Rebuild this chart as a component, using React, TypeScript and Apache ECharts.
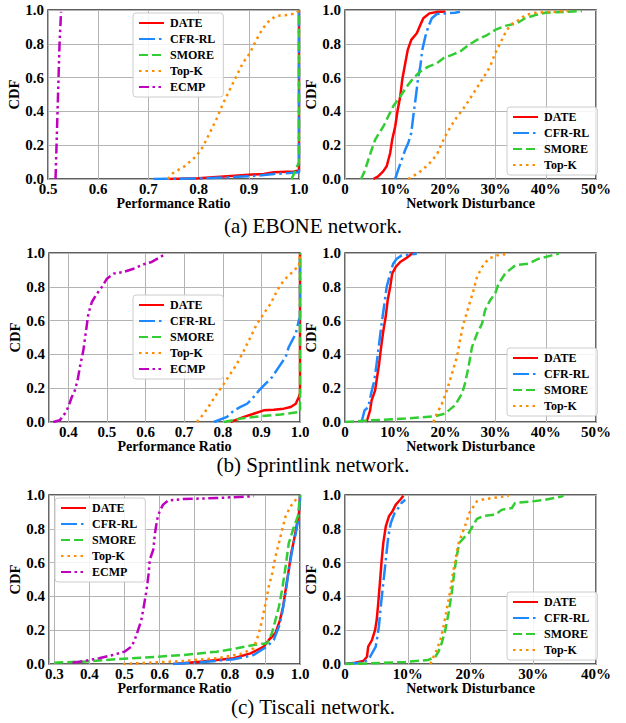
import React, { useEffect, useRef } from 'react';
import * as echarts from 'echarts';

// ---------- (a) EBONE : performance ratio ----------
const ebonePrDATE = [[0.74, 0], [0.8, 0.005], [0.85, 0.015], [0.9, 0.025], [0.93, 0.03], [0.95, 0.04], [0.99, 0.045], [1.0, 0.05], [1.0, 1.0]];
const ebonePrCFR = [[0.71, 0], [0.8, 0.003], [0.86, 0.01], [0.92, 0.02], [0.95, 0.03], [0.98, 0.035], [1.0, 0.04], [1.0, 1.0]];
const ebonePrSMORE = [[0.985, 0], [0.993, 0.05], [0.997, 0.08], [1.0, 0.1], [1.0, 1.0]];
const ebonePrTopK = [[0.739, 0], [0.749, 0.035], [0.772, 0.075], [0.795, 0.134], [0.809, 0.193], [0.822, 0.272], [0.835, 0.35], [0.849, 0.449], [0.862, 0.528], [0.875, 0.606], [0.888, 0.685], [0.902, 0.744], [0.915, 0.823], [0.928, 0.892], [0.942, 0.941], [0.955, 0.965], [0.975, 0.97], [0.995, 0.98], [1.0, 1.0]];
const ebonePrECMP = [[0.515, 0], [0.517, 0.2], [0.519, 0.4], [0.521, 0.6], [0.523, 0.8], [0.526, 0.99]];

// ---------- (a) EBONE : network disturbance (%) ----------
const eboneNdDATE = [[5.65, 0], [6.6, 0.016], [7.6, 0.045], [8.3, 0.075], [9.0, 0.154], [9.4, 0.232], [10.0, 0.311], [10.5, 0.41], [11.0, 0.488], [11.4, 0.587], [12.0, 0.685], [12.5, 0.764], [13.2, 0.823], [14.3, 0.862], [15.0, 0.911], [15.6, 0.951], [16.8, 0.98], [18.6, 0.99], [20.0, 0.99]];
const eboneNdCFR = [[10.0, 0], [10.6, 0.055], [11.3, 0.114], [12.0, 0.173], [12.6, 0.213], [13.2, 0.272], [13.6, 0.37], [14.2, 0.508], [14.6, 0.606], [15.0, 0.665], [15.4, 0.764], [16.0, 0.843], [16.6, 0.902], [17.3, 0.951], [18.3, 0.976], [20.0, 0.98], [21.9, 0.984], [22.9, 0.99]];
const eboneNdSMORE = [[3.2, 0], [3.9, 0.045], [4.65, 0.114], [5.3, 0.173], [6.0, 0.232], [6.8, 0.272], [7.65, 0.311], [8.6, 0.37], [9.6, 0.43], [11.0, 0.488], [12.3, 0.547], [13.6, 0.596], [15.0, 0.636], [16.6, 0.665], [18.3, 0.685], [19.6, 0.715], [21.3, 0.734], [22.9, 0.754], [24.6, 0.793], [26.3, 0.823], [28.3, 0.852], [29.9, 0.882], [31.9, 0.906], [34.2, 0.921], [35.9, 0.951], [37.9, 0.97], [39.9, 0.984], [44.5, 0.99], [47.2, 0.994]];
const eboneNdTopK = [[12.6, 0], [14.6, 0.035], [16.6, 0.085], [18.3, 0.144], [19.3, 0.213], [20.3, 0.272], [21.9, 0.35], [23.9, 0.43], [25.6, 0.508], [27.3, 0.587], [28.9, 0.665], [29.9, 0.744], [30.9, 0.803], [31.9, 0.862], [32.9, 0.911], [34.6, 0.941], [35.9, 0.97], [37.9, 0.984], [41.9, 0.99], [44.5, 0.994]];

// ---------- (b) Sprintlink : performance ratio ----------
const sprintPrDATE = [[0.82, 0], [0.855, 0.03], [0.88, 0.049], [0.906, 0.069], [0.932, 0.073], [0.958, 0.079], [0.976, 0.089], [0.989, 0.108], [0.997, 0.148], [1.0, 0.17], [1.0, 1.0]];
const sprintPrCFR = [[0.777, 0], [0.811, 0.03], [0.829, 0.069], [0.846, 0.089], [0.863, 0.108], [0.88, 0.148], [0.894, 0.187], [0.911, 0.227], [0.928, 0.266], [0.945, 0.325], [0.963, 0.385], [0.971, 0.444], [0.98, 0.483], [0.989, 0.523], [0.993, 0.562], [0.997, 0.602], [1.0, 0.62], [1.0, 1.0]];
const sprintPrSMORE = [[0.803, 0], [0.846, 0.02], [0.898, 0.034], [0.95, 0.045], [1.0, 0.06], [1.0, 1.0]];
const sprintPrTopK = [[0.733, 0], [0.751, 0.049], [0.768, 0.108], [0.785, 0.168], [0.803, 0.227], [0.82, 0.286], [0.837, 0.345], [0.855, 0.424], [0.872, 0.503], [0.889, 0.582], [0.906, 0.641], [0.924, 0.7], [0.941, 0.779], [0.958, 0.838], [0.976, 0.878], [0.989, 0.907], [0.997, 0.917], [1.0, 1.0]];
const sprintPrECMP = [[0.361, 0], [0.378, 0.01], [0.391, 0.05], [0.4, 0.089], [0.409, 0.148], [0.417, 0.187], [0.424, 0.247], [0.43, 0.325], [0.439, 0.424], [0.446, 0.542], [0.452, 0.641], [0.461, 0.71], [0.474, 0.759], [0.487, 0.799], [0.5, 0.848], [0.517, 0.878], [0.543, 0.888], [0.569, 0.907], [0.595, 0.933], [0.616, 0.947], [0.638, 0.976], [0.651, 0.992]];

// ---------- (b) Sprintlink : network disturbance (%) ----------
const sprintNdDATE = [[4.3, 0], [5.0, 0.069], [5.3, 0.128], [6.0, 0.187], [6.3, 0.247], [6.8, 0.345], [7.2, 0.444], [7.65, 0.542], [8.1, 0.621], [8.5, 0.72], [9.0, 0.799], [9.4, 0.878], [10.1, 0.917], [11.0, 0.947], [12.3, 0.972], [13.3, 0.996], [13.8, 1.0]];
const sprintNdCFR = [[3.3, 0], [3.9, 0.069], [4.65, 0.089], [5.2, 0.168], [5.85, 0.247], [6.3, 0.345], [6.8, 0.464], [7.3, 0.582], [7.85, 0.7], [8.3, 0.799], [9.0, 0.878], [9.6, 0.937], [10.3, 0.966], [11.3, 0.986], [14.3, 0.996]];
const sprintNdSMORE = [[0, 0], [5.3, 0.01], [12.0, 0.02], [17.95, 0.034], [19.9, 0.049], [21.9, 0.099], [23.3, 0.168], [23.9, 0.227], [24.6, 0.325], [25.3, 0.444], [26.3, 0.523], [27.3, 0.582], [27.9, 0.661], [28.9, 0.72], [29.9, 0.759], [30.6, 0.819], [31.9, 0.878], [33.9, 0.927], [36.6, 0.937], [38.6, 0.966], [41.2, 0.986], [42.6, 0.996]];
const sprintNdTopK = [[17.6, 0], [18.3, 0.049], [19.3, 0.108], [20.3, 0.187], [21.3, 0.286], [22.3, 0.385], [22.9, 0.483], [23.6, 0.582], [24.6, 0.68], [25.6, 0.779], [26.3, 0.858], [27.3, 0.917], [28.6, 0.966], [30.3, 0.986], [32.6, 0.996]];

// ---------- (c) Tiscali : performance ratio ----------
const tiscPrDATE = [[0.639, 0], [0.715, 0.014], [0.811, 0.034], [0.859, 0.063], [0.897, 0.103], [0.911, 0.142], [0.93, 0.182], [0.943, 0.26], [0.952, 0.34], [0.959, 0.439], [0.968, 0.557], [0.975, 0.656], [0.983, 0.735], [0.99, 0.814], [0.997, 0.893], [1.0, 1.0]];
const tiscPrCFR = [[0.639, 0], [0.715, 0.01], [0.811, 0.028], [0.868, 0.053], [0.906, 0.103], [0.925, 0.142], [0.94, 0.221], [0.949, 0.3], [0.959, 0.419], [0.968, 0.557], [0.978, 0.676], [0.988, 0.775], [0.995, 0.854], [1.0, 0.972], [1.0, 1.0]];
const tiscPrSMORE = [[0.3, 0.008], [0.381, 0.014], [0.477, 0.028], [0.572, 0.04], [0.668, 0.053], [0.763, 0.073], [0.82, 0.093], [0.868, 0.113], [0.906, 0.123], [0.92, 0.182], [0.93, 0.26], [0.94, 0.34], [0.949, 0.439], [0.959, 0.577], [0.968, 0.715], [0.983, 0.814], [0.994, 0.874], [0.999, 0.972], [1.0, 1.0]];
const tiscPrTopK = [[0.496, 0], [0.572, 0.008], [0.668, 0.018], [0.763, 0.034], [0.83, 0.059], [0.868, 0.093], [0.883, 0.182], [0.892, 0.26], [0.902, 0.36], [0.911, 0.458], [0.921, 0.538], [0.93, 0.636], [0.94, 0.715], [0.949, 0.794], [0.959, 0.874], [0.973, 0.933], [0.988, 0.972], [0.997, 0.992]];
const tiscPrECMP = [[0.352, 0.008], [0.39, 0.02], [0.428, 0.034], [0.466, 0.053], [0.5, 0.073], [0.52, 0.103], [0.529, 0.142], [0.539, 0.202], [0.548, 0.26], [0.555, 0.34], [0.563, 0.439], [0.569, 0.537], [0.572, 0.617], [0.582, 0.676], [0.587, 0.775], [0.593, 0.854], [0.6, 0.903], [0.61, 0.943], [0.625, 0.968], [0.668, 0.976], [0.763, 0.982], [0.859, 0.992], [0.868, 0.992]];

// ---------- (c) Tiscali : network disturbance (%) ----------
const tiscNdDATE = [[0, 0], [1.6, 0.008], [2.9, 0.018], [3.5, 0.043], [3.7, 0.103], [4.3, 0.142], [4.8, 0.202], [5.05, 0.26], [5.3, 0.36], [5.6, 0.498], [5.85, 0.617], [6.1, 0.715], [6.5, 0.814], [7.0, 0.874], [7.55, 0.903], [8.1, 0.943], [8.8, 0.972], [9.3, 0.996]];
const tiscNdCFR = [[0, 0], [2.7, 0.008], [3.7, 0.024], [4.3, 0.063], [4.9, 0.103], [5.4, 0.221], [5.7, 0.34], [6.1, 0.478], [6.5, 0.617], [6.9, 0.755], [7.3, 0.834], [7.9, 0.893], [8.5, 0.923], [9.0, 0.953], [9.6, 0.972]];
const tiscNdSMORE = [[0, 0], [4.3, 0.004], [9.6, 0.012], [13.3, 0.024], [14.4, 0.043], [14.9, 0.073], [15.4, 0.123], [16.0, 0.202], [16.5, 0.3], [17.0, 0.419], [17.4, 0.538], [17.8, 0.636], [18.2, 0.715], [18.9, 0.745], [19.7, 0.775], [20.5, 0.824], [21.0, 0.858], [22.1, 0.877], [23.9, 0.883], [25.0, 0.913], [26.6, 0.923], [27.1, 0.953], [29.8, 0.962], [31.9, 0.972], [34.6, 0.992], [34.8, 0.996]];
const tiscNdTopK = [[13.6, 0], [14.1, 0.043], [14.6, 0.083], [15.2, 0.142], [15.7, 0.221], [16.2, 0.32], [16.8, 0.439], [17.2, 0.538], [17.6, 0.617], [18.1, 0.715], [18.7, 0.775], [19.3, 0.834], [19.8, 0.893], [20.5, 0.933], [21.0, 0.962], [21.8, 0.972], [23.4, 0.982], [25.5, 0.992], [26.1, 0.996]];

const CAPTIONS = ['(a) EBONE network.', '(b) Sprintlink network.', '(c) Tiscali network.'];
const Y_TICKS = [0, 0.2, 0.4, 0.6, 0.8, 1.0];

const LW = 2.5;
const STYLES: Record<string, { color: string; dash: any }> = {
  'DATE': { color: '#ff0000', dash: 'solid' },
  'CFR-RL': { color: '#1e88ff', dash: [16, 4, 2.5, 4] },
  'SMORE': { color: '#32cd32', dash: [9, 4] },
  'Top-K': { color: '#ff8c00', dash: [2.5, 4] },
  'ECMP': { color: '#bf00bf', dash: [10, 3.5, 2.5, 3.5, 2.5, 3.5] },
};

const FONT = "'Liberation Serif', 'Times New Roman', serif";

const PANELS = [
  { grid: { left: 48, top: 10 }, kind: 'pr', min: 0.5, max: 1.0, legend: { left: 133, top: 13 }, series: [['DATE', ebonePrDATE], ['CFR-RL', ebonePrCFR], ['SMORE', ebonePrSMORE], ['Top-K', ebonePrTopK], ['ECMP', ebonePrECMP]] },
  { grid: { left: 345, top: 10 }, kind: 'nd', min: 0, max: 50, legend: { left: 507, top: 107 }, series: [['DATE', eboneNdDATE], ['CFR-RL', eboneNdCFR], ['SMORE', eboneNdSMORE], ['Top-K', eboneNdTopK]] },
  { grid: { left: 49, top: 253 }, kind: 'pr', min: 0.35, max: 1.0, legend: { left: 133, top: 295 }, series: [['DATE', sprintPrDATE], ['CFR-RL', sprintPrCFR], ['SMORE', sprintPrSMORE], ['Top-K', sprintPrTopK], ['ECMP', sprintPrECMP]] },
  { grid: { left: 345, top: 253 }, kind: 'nd', min: 0, max: 50, legend: { left: 507, top: 348 }, series: [['DATE', sprintNdDATE], ['CFR-RL', sprintNdCFR], ['SMORE', sprintNdSMORE], ['Top-K', sprintNdTopK]] },
  { grid: { left: 49, top: 495 }, kind: 'pr', min: 0.285, max: 1.0, legend: { left: 55, top: 498 }, series: [['DATE', tiscPrDATE], ['CFR-RL', tiscPrCFR], ['SMORE', tiscPrSMORE], ['Top-K', tiscPrTopK], ['ECMP', tiscPrECMP]] },
  { grid: { left: 345, top: 495 }, kind: 'nd', min: 0, max: 40, legend: { left: 507, top: 592 }, series: [['DATE', tiscNdDATE], ['CFR-RL', tiscNdCFR], ['SMORE', tiscNdSMORE], ['Top-K', tiscNdTopK]] },
];

const CAPTION_TOPS = [210, 449, 691];

function buildOption() {
  const grids: any[] = [];
  const xAxes: any[] = [];
  const yAxes: any[] = [];
  const series: any[] = [];
  const legends: any[] = [];
  const labelStyle = { fontFamily: FONT, fontWeight: 'bold', fontSize: 15, color: '#000' };
  PANELS.forEach((p, i) => {
    grids.push({ left: p.grid.left, top: p.grid.top, width: 251, height: 169, show: true, borderColor: '#2a2a2a', borderWidth: 1.4, backgroundColor: 'transparent', containLabel: false });
    const isPr = p.kind === 'pr';
    const xa: any = {
      type: 'value', gridIndex: i, min: p.min, max: p.max,
      name: isPr ? 'Performance Ratio' : 'Network Disturbance',
      nameLocation: 'middle', nameGap: 16,
      nameTextStyle: { fontFamily: FONT, fontWeight: 'bold', fontSize: 14, color: '#000' },
      axisLine: { show: false }, axisTick: { show: false },
      splitLine: { show: true, lineStyle: { color: '#b4b4b4', width: 1 } },
      axisLabel: {
        ...labelStyle, margin: 2, showMinLabel: true, showMaxLabel: true,
        formatter: isPr
          ? (v: number) => (Math.abs(v * 10 - Math.round(v * 10)) < 1e-6 ? v.toFixed(1) : '')
          : (v: number) => (v === 0 ? '0' : `${v}%`),
      },
    };
    if (isPr) {
      if (p.min === 0.5) xa.interval = 0.1;
    } else {
      xa.interval = 10;
    }
    xAxes.push(xa);
    yAxes.push({
      type: 'value', gridIndex: i, min: Y_TICKS[0], max: Y_TICKS[Y_TICKS.length - 1], interval: Y_TICKS[1] - Y_TICKS[0],
      name: 'CDF', nameLocation: 'middle', nameGap: 14,
      nameTextStyle: { fontFamily: FONT, fontWeight: 'bold', fontSize: 14.5, color: '#000' },
      axisLine: { show: false }, axisTick: { show: false },
      splitLine: { show: true, lineStyle: { color: '#b4b4b4', width: 1 } },
      axisLabel: { ...labelStyle, margin: 4, showMinLabel: true, showMaxLabel: true, formatter: (v: number) => v.toFixed(1) },
    });
    p.series.forEach(([name, data]: any, k: number) => {
      const st = STYLES[name];
      series.push({
        type: 'line', name, data, xAxisIndex: i, yAxisIndex: i,
        symbol: 'none', showSymbol: false, silent: true, z: 2 + k,
        lineStyle: { color: st.color, width: LW, type: st.dash, cap: 'butt', join: 'round' },
        itemStyle: { color: st.color },
      });
    });
    legends.push({
      left: p.legend.left, top: p.legend.top, orient: 'vertical',
      data: p.series.map((s: any) => s[0]),
      itemWidth: 25, itemHeight: 12, itemGap: 4,
      padding: [4, 8, 4, 5],
      itemStyle: { opacity: 0, borderWidth: 0 },
      backgroundColor: 'rgba(255,255,255,0.85)', borderColor: '#cccccc', borderWidth: 1, borderRadius: 3,
      textStyle: { fontFamily: FONT, fontWeight: 'bold', fontSize: 12, color: '#000', padding: [0, 0, 0, 1] },
      selectedMode: false,
    });
  });
  const titles = CAPTIONS.map((t, i) => ({
    text: t, left: 'center', top: CAPTION_TOPS[i],
    textStyle: { fontFamily: FONT, fontWeight: 'normal', fontSize: 21, color: '#000' },
  }));
  return {
    animation: false,
    backgroundColor: '#ffffff',
    title: titles,
    grid: grids,
    xAxis: xAxes,
    yAxis: yAxes,
    legend: legends,
    series,
  };
}

export default function App() {
  const ref = useRef<HTMLDivElement>(null);
  useEffect(() => {
    if (!ref.current) return;
    const chart = echarts.init(ref.current, undefined, { renderer: 'svg' });
    chart.setOption(buildOption());
    return () => chart.dispose();
  }, []);
  return <div ref={ref} style={{ position: 'absolute', left: 0, top: 0, width: 626, height: 723 }} />;
}
